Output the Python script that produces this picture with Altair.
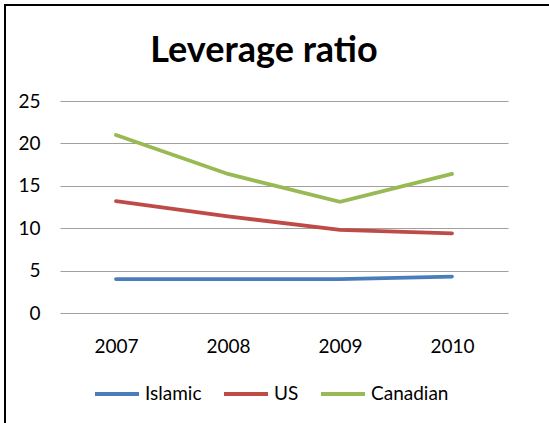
import altair as alt
import pandas as pd

years = ["2007", "2008", "2009", "2010"]
islamic = [4.0, 4.0, 4.0, 4.3]
us = [13.2, 11.4, 9.8, 9.4]
canadian = [21.0, 16.4, 13.1, 16.4]

series_names = ["Islamic", "US", "Canadian"]
series_colors = ["#4A7EBB", "#BE4B48", "#98B954"]
chart_title = "Leverage ratio"

rows = []
for name, vals in zip(series_names, [islamic, us, canadian]):
    for yr, v in zip(years, vals):
        rows.append({"Year": yr, "Series": name, "Value": v})
df = pd.DataFrame(rows)

FONT = "Lato"

lines = alt.Chart(df).mark_line(strokeWidth=3.8, strokeCap="round").encode(
    x=alt.X("Year:N", sort=years, scale=alt.Scale(paddingInner=0, paddingOuter=0.5),
            axis=alt.Axis(title=None, labelAngle=0, labelFontSize=19, labelFont=FONT,
                          labelColor="#000000", labelPadding=24, domain=False, ticks=False,
                          grid=False)),
    y=alt.Y("Value:Q", scale=alt.Scale(domain=[0, 25], nice=False),
            axis=alt.Axis(title=None, values=[0, 5, 10, 15, 20, 25], labelFontSize=19,
                          labelFont=FONT, labelColor="#000000", labelPadding=20,
                          domain=False, ticks=False, gridColor="#a0a0a0", gridWidth=1.2)),
    color=alt.Color("Series:N", sort=series_names,
                    scale=alt.Scale(domain=series_names, range=series_colors),
                    legend=alt.Legend(title=None, orient="none", legendX=33, legendY=269,
                                      direction="horizontal", symbolType="stroke",
                                      symbolSize=1936, symbolStrokeWidth=4,
                                      labelFontSize=19, labelFont=FONT, labelColor="#000000",
                                      labelOffset=4, columnPadding=14)),
)

# Chart heading drawn as a text mark so it sits independently of the frame
heading = alt.Chart(pd.DataFrame({"t": [chart_title]})).mark_text(
    font=FONT, fontSize=36, fontWeight="bold", color="#000000",
    align="center", baseline="alphabetic"
).encode(text="t:N", x=alt.value(204), y=alt.value(-39))

frame = alt.Chart(pd.DataFrame({"f": [0]})).mark_rect(
    fill=None, stroke="#000000", strokeWidth=2
).encode(x=alt.value(-55), x2=alt.value(520), y=alt.value(-96), y2=alt.value(360))

chart = alt.layer(lines, heading, frame).properties(
    width=448, height=212,
    autosize=alt.AutoSizeParams(type="none"),
    padding={"left": 60, "top": 101, "right": 41, "bottom": 110},
).configure_view(stroke=None)

chart.save("out.html", embed_options={"renderer": "svg", "actions": False})
